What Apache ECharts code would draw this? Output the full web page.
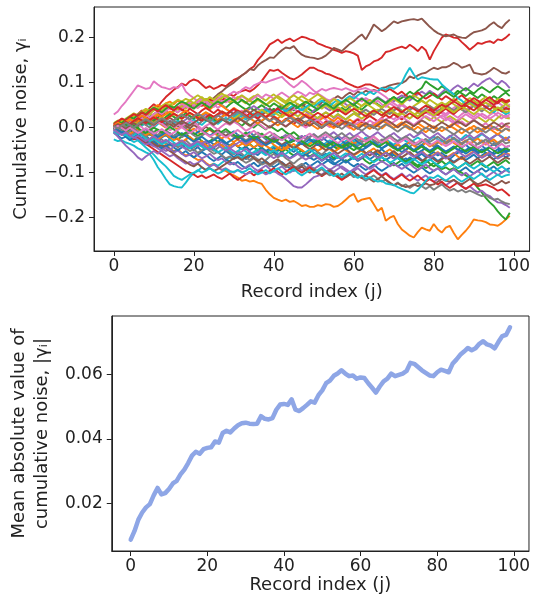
<!DOCTYPE html>
<html><head><meta charset="utf-8">
<script src="https://cdn.jsdelivr.net/npm/echarts@6/dist/echarts.min.js"></script>
<style>html,body{margin:0;padding:0;background:#fff}#c{width:533px;height:596px}</style>
</head><body><div id="c"></div>
<script>
const recordIndex = Array.from({length:100},(_,i)=>i);
const xTicks=[0,20,40,60,80,100];
const topYTicks=[-0.2,-0.1,0,0.1,0.2];
const bottomYTicks=[0.02,0.04,0.06];

const w00=[.002,-.006,-.012,-.008,-.016,-.010,-.019,-.024,-.018,-.026,-.020,-.030,-.036,-.028,-.034,-.042,-.038,-.030,-.036,-.044,-.050,-.043,-.052,-.047,-.040,-.046,-.054,-.060,-.052,-.058,-.066,-.058,-.062,-.070,-.064,-.056,-.061,-.052,-.058,-.050,-.044,-.052,-.046,-.040,-.048,-.054,-.046,-.052,-.060,-.055,-.048,-.054,-.062,-.058,-.066,-.072,-.064,-.070,-.062,-.056,-.063,-.070,-.066,-.058,-.052,-.060,-.054,-.048,-.056,-.062,-.055,-.060,-.068,-.074,-.066,-.072,-.064,-.058,-.066,-.060,-.054,-.062,-.056,-.064,-.070,-.062,-.056,-.050,-.058,-.052,-.046,-.054,-.048,-.056,-.062,-.054,-.048,-.056,-.050,-.052];
const w01=[.000,-.006,-.002,-.010,-.016,-.012,-.020,-.026,-.022,-.030,-.028,-.036,-.042,-.038,-.046,-.052,-.048,-.056,-.062,-.058,-.066,-.072,-.070,-.078,-.084,-.080,-.088,-.094,-.096,-.102,-.106,-.111,-.118,-.116,-.120,-.118,-.122,-.125,-.138,-.148,-.156,-.160,-.163,-.160,-.165,-.163,-.168,-.174,-.172,-.176,-.176,-.172,-.174,-.170,-.171,-.176,-.174,-.168,-.160,-.152,-.147,-.165,-.160,-.158,-.156,-.170,-.185,-.178,-.207,-.200,-.196,-.214,-.226,-.233,-.240,-.244,-.232,-.222,-.226,-.229,-.214,-.226,-.233,-.222,-.218,-.234,-.248,-.238,-.229,-.218,-.204,-.206,-.207,-.210,-.215,-.216,-.218,-.212,-.204,-.196];
const w02=[-.004,.004,.010,.006,.014,.020,.015,.022,.028,.024,.030,.036,.030,.038,.044,.040,.034,.042,.048,.044,.050,.046,.054,.060,.054,.048,.055,.050,.044,.052,.058,.052,.046,.040,.046,.038,.044,.050,.043,.036,.042,.036,.030,.037,.044,.038,.046,.052,.046,.040,.034,.041,.048,.054,.048,.042,.036,.044,.038,.046,.052,.045,.040,.048,.054,.060,.052,.046,.054,.062,.068,.061,.066,.072,.080,.074,.082,.088,.103,.096,.090,.084,.092,.086,.080,.074,.082,.076,.070,.078,.072,.066,.074,.068,.062,.070,.064,.072,.078,.070];
const w03=[.005,.012,.006,.016,.024,.018,.030,.038,.030,.044,.052,.046,.058,.068,.076,.084,.090,.098,.094,.103,.107,.104,.096,.088,.092,.086,.090,.095,.092,.099,.106,.110,.116,.122,.130,.136,.150,.160,.172,.185,.190,.196,.188,.194,.198,.192,.197,.202,.200,.196,.194,.187,.184,.180,.177,.173,.170,.166,.170,.168,.165,.160,.128,.136,.140,.147,.150,.156,.168,.170,.174,.177,.180,.176,.184,.178,.170,.180,.172,.151,.170,.185,.200,.207,.204,.200,.199,.190,.182,.173,.180,.188,.186,.190,.192,.188,.196,.194,.200,.208];
const w04=[.006,.012,.006,.000,.008,.014,.010,.004,.012,.018,.012,.020,.014,.008,.016,.010,.004,.012,.018,.026,.020,.028,.022,.030,.024,.018,.026,.032,.026,.034,.040,.034,.028,.036,.042,.048,.042,.036,.044,.038,.032,.040,.046,.040,.034,.028,.036,.042,.036,.030,.038,.044,.050,.044,.038,.046,.052,.058,.052,.046,.054,.060,.066,.060,.054,.062,.068,.062,.056,.064,.058,.066,.072,.066,.060,.068,.074,.080,.074,.082,.076,.070,.078,.086,.080,.088,.094,.088,.082,.090,.098,.092,.100,.106,.110,.102,.096,.104,.098,.088];
const w05=[.002,-.004,.006,.014,.010,.018,.026,.020,.012,.018,.024,.032,.028,.036,.030,.038,.046,.042,.050,.045,.052,.060,.056,.064,.058,.066,.074,.080,.088,.094,.100,.108,.116,.122,.130,.128,.138,.145,.150,.156,.155,.164,.172,.178,.176,.181,.170,.162,.158,.156,.155,.152,.155,.160,.168,.177,.174,.170,.178,.186,.192,.200,.207,.196,.212,.229,.222,.214,.220,.228,.236,.232,.236,.238,.240,.241,.239,.242,.233,.224,.216,.210,.206,.203,.205,.207,.202,.200,.199,.206,.212,.214,.216,.220,.228,.234,.226,.221,.232,.240];
const w06=[.029,.036,.048,.058,.070,.082,.094,.090,.086,.088,.103,.096,.090,.088,.085,.090,.088,.097,.080,.072,.066,.058,.062,.055,.048,.052,.044,.050,.042,.036,.040,.032,.038,.030,.024,.030,.022,.028,.034,.026,.032,.040,.034,.028,.036,.042,.036,.030,.024,.030,.022,.016,.024,.018,.012,.020,.026,.018,.012,.006,.014,.020,.014,.008,.016,.010,.004,.012,.018,.024,.018,.026,.032,.026,.020,.028,.034,.040,.034,.028,.036,.042,.036,.030,.038,.044,.050,.044,.038,.046,.052,.046,.040,.048,.054,.048,.056,.050,.044,.052];
const w07=[-.003,.005,-.002,-.010,-.004,.004,-.004,-.012,-.020,-.014,-.022,-.016,-.008,-.014,-.024,-.018,-.026,-.034,-.028,-.036,-.044,-.038,-.030,-.037,-.046,-.052,-.045,-.038,-.046,-.054,-.060,-.052,-.058,-.066,-.072,-.064,-.070,-.078,-.072,-.064,-.058,-.066,-.060,-.068,-.074,-.080,-.072,-.066,-.060,-.068,-.062,-.055,-.060,-.052,-.046,-.054,-.048,-.040,-.046,-.038,-.032,-.040,-.034,-.042,-.036,-.028,-.034,-.026,-.032,-.040,-.046,-.038,-.044,-.050,-.042,-.036,-.044,-.038,-.030,-.036,-.042,-.034,-.028,-.036,-.030,-.024,-.032,-.038,-.030,-.036,-.042,-.036,-.028,-.034,-.026,-.032,-.038,-.030,-.024,-.030];
const w08=[.004,.010,.018,.012,.020,.026,.022,.030,.036,.030,.038,.044,.038,.046,.052,.046,.040,.048,.054,.060,.054,.062,.068,.060,.066,.058,.064,.070,.062,.056,.062,.068,.060,.054,.062,.068,.074,.066,.060,.068,.074,.066,.060,.054,.062,.056,.064,.070,.064,.058,.052,.060,.066,.060,.054,.048,.056,.050,.044,.052,.046,.040,.048,.054,.048,.042,.036,.044,.050,.044,.038,.046,.052,.046,.040,.048,.054,.060,.054,.048,.042,.050,.056,.050,.058,.064,.058,.052,.060,.066,.060,.054,.062,.068,.062,.056,.064,.058,.052,.060];
const w09=[-.026,-.030,-.028,-.033,-.036,-.040,-.046,-.050,-.055,-.059,-.072,-.088,-.100,-.114,-.126,-.130,-.132,-.133,-.122,-.110,-.101,-.096,-.088,-.094,-.086,-.080,-.085,-.078,-.072,-.066,-.070,-.062,-.068,-.060,-.054,-.060,-.052,-.046,-.054,-.048,-.040,-.046,-.052,-.044,-.038,-.044,-.036,-.030,-.038,-.032,-.026,-.034,-.040,-.034,-.028,-.036,-.042,-.036,-.030,-.024,-.030,-.036,-.030,-.022,-.028,-.034,-.040,-.034,-.026,-.032,-.038,-.030,-.024,-.030,-.036,-.028,-.022,-.028,-.034,-.026,-.020,-.026,-.032,-.026,-.018,-.024,-.030,-.024,-.016,-.022,-.028,-.022,-.014,-.020,-.026,-.020,-.014,-.020,-.026,-.020];
const w10=[-.008,-.014,-.010,-.018,-.024,-.020,-.028,-.022,-.030,-.036,-.030,-.038,-.044,-.040,-.048,-.054,-.050,-.058,-.052,-.060,-.066,-.060,-.054,-.060,-.068,-.074,-.068,-.062,-.070,-.076,-.082,-.076,-.084,-.090,-.084,-.078,-.086,-.080,-.074,-.082,-.088,-.082,-.076,-.084,-.090,-.096,-.090,-.084,-.078,-.086,-.080,-.074,-.082,-.076,-.070,-.078,-.084,-.078,-.072,-.080,-.086,-.080,-.088,-.094,-.088,-.082,-.090,-.096,-.090,-.084,-.078,-.086,-.080,-.088,-.094,-.100,-.094,-.088,-.096,-.102,-.096,-.090,-.098,-.104,-.098,-.092,-.100,-.094,-.088,-.096,-.102,-.096,-.090,-.098,-.092,-.086,-.094,-.100,-.094,-.090];
const w11=[.004,.012,.020,.014,.024,.030,.026,.034,.040,.036,.044,.050,.046,.054,.058,.052,.060,.054,.048,.056,.050,.044,.052,.046,.040,.048,.054,.048,.042,.036,.044,.038,.032,.040,.034,.028,.036,.030,.024,.032,.026,.020,.028,.034,.028,.022,.016,.024,.030,.024,.018,.012,.020,.026,.020,.014,.022,.016,.010,.018,.012,.006,.014,.008,.002,.010,.004,-.002,.006,.012,.006,.000,.008,.002,-.004,.004,.010,.004,-.002,.006,.000,-.006,.002,-.004,.004,.010,.004,-.002,-.008,-.002,.004,-.002,-.008,-.002,.006,.000,-.006,.000,.006,.000];
const w12=[-.002,-.008,-.004,-.012,-.006,-.014,-.020,-.014,-.008,-.016,-.010,-.004,-.012,-.018,-.012,-.020,-.026,-.020,-.014,-.022,-.028,-.022,-.030,-.036,-.030,-.024,-.032,-.026,-.034,-.040,-.034,-.042,-.048,-.042,-.036,-.044,-.050,-.044,-.052,-.058,-.052,-.046,-.054,-.048,-.056,-.062,-.056,-.050,-.058,-.064,-.058,-.066,-.072,-.066,-.060,-.068,-.062,-.070,-.076,-.070,-.064,-.072,-.066,-.074,-.080,-.074,-.068,-.076,-.070,-.078,-.084,-.078,-.072,-.080,-.074,-.082,-.088,-.082,-.090,-.084,-.078,-.086,-.092,-.088,-.094,-.090,-.096,-.100,-.106,-.111,-.122,-.134,-.144,-.156,-.166,-.174,-.186,-.196,-.204,-.189];
const w13=[.004,-.002,.006,.012,.008,.016,.010,.018,.024,.020,.028,.022,.030,.036,.030,.038,.044,.038,.046,.052,.046,.054,.048,.056,.062,.058,.066,.060,.068,.074,.070,.078,.081,.084,.080,.086,.094,.104,.116,.128,.126,.129,.122,.116,.110,.107,.112,.118,.126,.133,.133,.128,.125,.120,.118,.114,.110,.107,.100,.096,.092,.089,.092,.096,.096,.092,.088,.084,.080,.086,.080,.074,.080,.072,.066,.072,.078,.070,.064,.070,.076,.068,.062,.070,.064,.058,.066,.072,.064,.058,.066,.060,.054,.062,.068,.060,.054,.062,.056,.060];
const w14=[-.006,-.012,-.008,-.016,-.022,-.018,-.026,-.032,-.028,-.036,-.042,-.038,-.046,-.052,-.048,-.056,-.050,-.058,-.064,-.060,-.054,-.062,-.068,-.064,-.058,-.066,-.072,-.068,-.076,-.082,-.078,-.086,-.092,-.088,-.082,-.090,-.096,-.090,-.084,-.092,-.098,-.092,-.086,-.094,-.100,-.094,-.088,-.096,-.090,-.084,-.092,-.086,-.080,-.088,-.094,-.088,-.082,-.090,-.096,-.102,-.096,-.090,-.098,-.104,-.098,-.092,-.100,-.106,-.100,-.108,-.114,-.108,-.102,-.110,-.104,-.112,-.118,-.112,-.106,-.114,-.120,-.114,-.122,-.128,-.122,-.116,-.124,-.130,-.136,-.130,-.138,-.144,-.140,-.148,-.152,-.160,-.166,-.167,-.172,-.178];
const w15=[-.002,.006,.002,.010,.016,.010,.018,.012,.006,.014,.020,.014,.008,.016,.022,.016,.024,.030,.024,.018,.026,.020,.014,.022,.028,.022,.016,.024,.030,.036,.030,.024,.032,.038,.032,.040,.034,.028,.036,.042,.036,.044,.050,.044,.038,.046,.052,.046,.054,.060,.054,.048,.056,.062,.056,.064,.070,.064,.072,.078,.072,.080,.076,.082,.078,.084,.081,.088,.090,.094,.096,.098,.099,.104,.114,.110,.116,.120,.122,.128,.133,.130,.134,.134,.138,.144,.140,.133,.136,.140,.122,.120,.118,.120,.126,.133,.128,.122,.120,.125];
const w16=[.002,.008,.004,.012,.018,.014,.022,.028,.024,.032,.026,.034,.040,.036,.044,.038,.046,.052,.048,.056,.050,.058,.064,.060,.052,.058,.064,.070,.066,.074,.080,.076,.084,.090,.086,.094,.098,.102,.100,.104,.107,.110,.113,.104,.096,.089,.096,.104,.098,.090,.082,.076,.070,.064,.060,.066,.058,.052,.058,.064,.070,.064,.058,.066,.060,.054,.060,.052,.046,.054,.048,.042,.050,.044,.038,.046,.040,.034,.042,.036,.030,.038,.032,.026,.034,.028,.022,.030,.036,.030,.024,.032,.026,.020,.028,.034,.026,.020,.028,.022];
const w17=[.000,-.006,-.002,-.010,-.016,-.012,-.020,-.014,-.022,-.028,-.024,-.030,-.026,-.034,-.040,-.036,-.044,-.038,-.046,-.052,-.048,-.056,-.050,-.044,-.052,-.058,-.054,-.062,-.068,-.064,-.070,-.064,-.072,-.078,-.074,-.068,-.076,-.082,-.078,-.086,-.080,-.074,-.082,-.088,-.084,-.092,-.086,-.080,-.088,-.094,-.090,-.098,-.092,-.100,-.106,-.100,-.108,-.114,-.108,-.102,-.110,-.104,-.112,-.118,-.112,-.106,-.114,-.120,-.116,-.124,-.128,-.122,-.130,-.126,-.134,-.128,-.122,-.130,-.136,-.130,-.138,-.132,-.126,-.134,-.140,-.136,-.142,-.138,-.144,-.140,-.144,-.148,-.152,-.150,-.156,-.160,-.158,-.164,-.168,-.170];
const w18=[.006,.000,.008,.014,.010,.018,.024,.018,.026,.032,.026,.034,.040,.034,.028,.036,.042,.048,.042,.050,.056,.050,.058,.064,.058,.052,.060,.066,.072,.066,.060,.068,.062,.056,.064,.070,.064,.058,.050,.056,.062,.056,.050,.044,.052,.058,.052,.046,.040,.048,.054,.048,.042,.050,.044,.038,.046,.040,.034,.042,.036,.030,.038,.032,.026,.034,.040,.034,.028,.036,.030,.024,.032,.026,.020,.028,.034,.028,.022,.016,.024,.018,.012,.020,.026,.020,.014,.022,.016,.010,.018,.024,.018,.012,.020,.014,.022,.028,.022,.020];
const w19=[-.004,.002,-.006,.000,.006,.002,.010,.004,.012,.006,.000,.008,.014,.008,.002,.010,.016,.010,.004,.012,.018,.012,.006,.014,.020,.014,.008,.016,.022,.016,.024,.030,.024,.018,.026,.032,.026,.034,.040,.034,.028,.036,.042,.036,.044,.050,.044,.038,.046,.052,.046,.054,.060,.054,.048,.056,.062,.056,.064,.070,.064,.072,.078,.072,.080,.074,.082,.088,.084,.090,.086,.092,.100,.118,.133,.118,.107,.112,.110,.108,.107,.107,.096,.088,.081,.074,.066,.060,.052,.058,.050,.044,.052,.046,.040,.034,.042,.036,.030,.034];
const w20=[-.010,-.016,-.012,-.020,-.014,-.022,-.028,-.034,-.030,-.038,-.032,-.040,-.046,-.042,-.036,-.044,-.050,-.044,-.038,-.046,-.040,-.034,-.042,-.036,-.030,-.038,-.032,-.026,-.034,-.040,-.034,-.042,-.048,-.042,-.050,-.044,-.038,-.046,-.052,-.046,-.054,-.060,-.054,-.062,-.068,-.062,-.056,-.064,-.058,-.066,-.072,-.066,-.074,-.068,-.076,-.082,-.076,-.070,-.078,-.072,-.066,-.074,-.068,-.062,-.070,-.064,-.058,-.066,-.072,-.066,-.060,-.068,-.074,-.068,-.076,-.070,-.064,-.072,-.078,-.072,-.066,-.074,-.068,-.062,-.070,-.076,-.070,-.064,-.072,-.066,-.060,-.068,-.062,-.056,-.064,-.070,-.064,-.058,-.066,-.060];
const w21=[.008,.002,.010,.016,.012,.006,.014,.020,.016,.010,.004,.012,.006,.000,.008,.002,-.004,.004,-.002,-.008,-.002,-.010,-.016,-.010,-.004,-.012,-.018,-.024,-.018,-.026,-.032,-.026,-.034,-.040,-.034,-.028,-.036,-.042,-.036,-.030,-.038,-.044,-.050,-.044,-.038,-.046,-.040,-.034,-.042,-.036,-.030,-.038,-.044,-.038,-.032,-.040,-.046,-.040,-.034,-.028,-.036,-.030,-.024,-.032,-.026,-.020,-.028,-.034,-.028,-.036,-.042,-.036,-.044,-.038,-.032,-.040,-.046,-.040,-.034,-.042,-.036,-.030,-.038,-.032,-.026,-.034,-.040,-.034,-.028,-.036,-.030,-.024,-.032,-.038,-.032,-.026,-.034,-.028,-.022,-.030];
const w22=[-.002,.004,.010,.004,.012,.006,.000,.008,.014,.008,.016,.022,.016,.024,.030,.024,.018,.026,.032,.026,.020,.028,.022,.016,.024,.018,.012,.020,.014,.008,.016,.010,.004,.012,.006,.000,.008,.002,-.004,.004,-.002,-.008,-.002,-.010,-.016,-.010,-.018,-.024,-.018,-.026,-.032,-.026,-.034,-.040,-.034,-.042,-.048,-.042,-.036,-.044,-.050,-.044,-.052,-.058,-.052,-.060,-.066,-.060,-.054,-.062,-.068,-.062,-.070,-.076,-.070,-.078,-.084,-.078,-.072,-.080,-.086,-.080,-.074,-.082,-.076,-.084,-.090,-.084,-.078,-.086,-.080,-.074,-.082,-.088,-.082,-.076,-.084,-.078,-.072,-.080];
const w23=[-.004,-.010,-.016,-.012,-.020,-.026,-.022,-.030,-.036,-.042,-.048,-.054,-.060,-.066,-.072,-.078,-.084,-.090,-.096,-.100,-.104,-.110,-.106,-.112,-.108,-.104,-.110,-.114,-.108,-.102,-.110,-.116,-.110,-.104,-.098,-.106,-.100,-.094,-.102,-.096,-.090,-.098,-.104,-.098,-.092,-.086,-.094,-.100,-.094,-.088,-.096,-.102,-.108,-.102,-.096,-.104,-.110,-.116,-.110,-.104,-.098,-.106,-.112,-.106,-.100,-.094,-.102,-.108,-.102,-.110,-.116,-.110,-.104,-.112,-.118,-.112,-.106,-.114,-.120,-.114,-.120,-.126,-.120,-.128,-.134,-.128,-.122,-.130,-.136,-.130,-.124,-.130,-.128,-.126,-.130,-.134,-.140,-.137,-.144,-.152];
const w24=[-.006,-.002,-.010,-.016,-.012,-.020,-.026,-.032,-.038,-.034,-.040,-.046,-.052,-.058,-.064,-.060,-.068,-.074,-.080,-.076,-.082,-.078,-.072,-.080,-.086,-.082,-.088,-.094,-.090,-.096,-.100,-.094,-.098,-.104,-.100,-.096,-.102,-.098,-.104,-.100,-.096,-.102,-.107,-.114,-.122,-.130,-.133,-.133,-.126,-.118,-.110,-.107,-.104,-.098,-.092,-.098,-.092,-.086,-.092,-.098,-.092,-.086,-.080,-.086,-.092,-.086,-.080,-.074,-.080,-.086,-.080,-.086,-.092,-.086,-.080,-.088,-.094,-.088,-.082,-.090,-.096,-.090,-.098,-.104,-.098,-.092,-.100,-.106,-.100,-.108,-.102,-.096,-.104,-.110,-.104,-.098,-.106,-.100,-.094,-.100];
const w25=[.000,-.006,-.012,-.008,-.016,-.022,-.018,-.026,-.032,-.028,-.036,-.042,-.038,-.046,-.052,-.058,-.064,-.070,-.076,-.082,-.086,-.080,-.088,-.094,-.090,-.096,-.092,-.086,-.080,-.074,-.068,-.066,-.072,-.066,-.060,-.068,-.074,-.068,-.076,-.082,-.076,-.070,-.078,-.084,-.078,-.086,-.092,-.086,-.094,-.100,-.094,-.100,-.106,-.100,-.094,-.102,-.108,-.102,-.110,-.104,-.098,-.106,-.112,-.106,-.114,-.120,-.114,-.108,-.116,-.122,-.128,-.124,-.128,-.132,-.130,-.126,-.130,-.128,-.124,-.128,-.126,-.120,-.114,-.118,-.120,-.116,-.122,-.126,-.120,-.114,-.120,-.126,-.122,-.116,-.122,-.128,-.124,-.118,-.124,-.120];
const w26=[.006,.012,.008,.016,.010,.018,.024,.020,.028,.022,.030,.036,.030,.038,.044,.040,.034,.042,.048,.042,.050,.044,.052,.058,.052,.046,.054,.060,.056,.062,.068,.062,.070,.064,.058,.066,.072,.066,.074,.070,.064,.072,.078,.072,.066,.074,.080,.076,.070,.078,.074,.080,.086,.082,.086,.088,.086,.084,.088,.084,.080,.084,.086,.088,.084,.082,.080,.074,.068,.060,.054,.048,.054,.046,.040,.046,.038,.032,.038,.030,.024,.030,.022,.016,.022,.014,.008,.014,.006,.012,.018,.010,.004,.010,.002,-.004,.004,.010,.004,.000];
const w27=[-.004,.002,.008,.002,-.006,.000,.006,.012,.006,.000,.008,.014,.008,.002,.010,.016,.010,.004,-.002,.006,.012,.006,.014,.020,.014,.008,.016,.022,.016,.010,.018,.024,.018,.012,.020,.026,.020,.014,.022,.028,.022,.016,.010,.018,.024,.018,.012,.020,.026,.020,.014,.022,.028,.034,.028,.022,.030,.024,.018,.026,.032,.026,.034,.040,.034,.028,.036,.042,.036,.030,.038,.044,.038,.032,.040,.046,.040,.034,.042,.048,.042,.036,.044,.050,.044,.038,.046,.040,.034,.042,.048,.042,.036,.044,.050,.044,.038,.046,.040,.044];
const w28=[.010,.016,.012,.020,.026,.032,.028,.036,.042,.038,.046,.040,.048,.054,.050,.056,.062,.058,.064,.060,.066,.072,.066,.060,.068,.062,.070,.076,.070,.064,.058,.066,.072,.066,.060,.054,.062,.056,.050,.058,.064,.070,.064,.058,.066,.072,.066,.060,.054,.062,.068,.074,.068,.062,.056,.064,.058,.052,.060,.066,.060,.054,.048,.056,.062,.056,.050,.044,.052,.058,.064,.058,.052,.060,.066,.072,.066,.060,.054,.062,.056,.050,.044,.052,.058,.052,.046,.040,.048,.054,.048,.042,.050,.056,.050,.044,.038,.046,.052,.046];
const w29=[-.010,-.016,-.012,-.020,-.026,-.032,-.028,-.036,-.044,-.052,-.060,-.070,-.078,-.086,-.096,-.107,-.112,-.116,-.110,-.104,-.100,-.094,-.100,-.096,-.090,-.096,-.102,-.098,-.092,-.098,-.098,-.094,-.100,-.096,-.090,-.098,-.104,-.100,-.094,-.102,-.096,-.090,-.098,-.104,-.098,-.092,-.100,-.106,-.100,-.094,-.100,-.094,-.088,-.096,-.102,-.108,-.102,-.110,-.104,-.098,-.106,-.112,-.106,-.114,-.110,-.116,-.120,-.118,-.124,-.126,-.127,-.132,-.136,-.140,-.144,-.146,-.138,-.128,-.118,-.110,-.112,-.106,-.112,-.118,-.112,-.106,-.114,-.120,-.114,-.108,-.114,-.108,-.102,-.110,-.116,-.110,-.104,-.110,-.106,-.104];
const w30=[-.012,-.018,-.024,-.020,-.028,-.022,-.016,-.024,-.030,-.026,-.020,-.028,-.022,-.016,-.024,-.018,-.012,-.020,-.014,-.008,-.016,-.010,-.004,-.012,-.018,-.012,-.006,-.014,-.020,-.014,-.008,-.016,-.022,-.016,-.010,-.018,-.024,-.018,-.026,-.032,-.026,-.020,-.028,-.022,-.016,-.024,-.030,-.024,-.018,-.026,-.032,-.026,-.020,-.028,-.034,-.028,-.022,-.030,-.036,-.030,-.024,-.032,-.038,-.044,-.038,-.032,-.040,-.046,-.040,-.034,-.042,-.048,-.042,-.036,-.044,-.050,-.044,-.038,-.046,-.052,-.046,-.040,-.048,-.054,-.048,-.042,-.050,-.044,-.038,-.046,-.052,-.046,-.040,-.048,-.042,-.036,-.044,-.050,-.044,-.040];
const w31=[.002,-.004,-.010,-.006,-.014,-.008,-.002,-.010,-.016,-.012,-.020,-.026,-.020,-.014,-.022,-.028,-.024,-.032,-.026,-.020,-.028,-.034,-.030,-.038,-.044,-.038,-.032,-.040,-.046,-.040,-.034,-.042,-.036,-.030,-.038,-.044,-.038,-.032,-.040,-.046,-.052,-.046,-.040,-.048,-.042,-.036,-.044,-.050,-.056,-.050,-.044,-.052,-.046,-.040,-.048,-.054,-.048,-.042,-.050,-.056,-.062,-.056,-.050,-.058,-.052,-.046,-.054,-.060,-.054,-.048,-.056,-.062,-.056,-.050,-.058,-.064,-.058,-.052,-.060,-.066,-.060,-.054,-.062,-.068,-.062,-.056,-.064,-.070,-.064,-.058,-.052,-.060,-.066,-.060,-.054,-.062,-.068,-.062,-.056,-.060];
const w32=[.008,.014,.010,.018,.024,.020,.028,.034,.030,.038,.044,.040,.034,.042,.048,.044,.052,.058,.054,.048,.042,.050,.056,.050,.044,.052,.058,.054,.060,.066,.060,.054,.062,.056,.050,.058,.064,.058,.052,.046,.054,.048,.042,.050,.056,.050,.044,.052,.058,.052,.046,.040,.048,.054,.048,.042,.050,.056,.062,.056,.050,.058,.064,.058,.052,.060,.066,.060,.054,.062,.068,.062,.056,.064,.070,.064,.058,.066,.072,.078,.072,.066,.074,.080,.074,.068,.076,.082,.088,.082,.076,.084,.090,.084,.078,.086,.092,.086,.080,.084];
const w33=[.008,.014,.020,.016,.024,.030,.026,.034,.028,.036,.042,.036,.044,.050,.044,.038,.046,.040,.034,.042,.036,.030,.038,.044,.038,.032,.040,.034,.028,.036,.042,.036,.030,.024,.032,.026,.020,.028,.022,.016,.024,.018,.012,.020,.014,.008,.016,.010,.004,.012,.018,.012,.006,.014,.008,.002,.010,.016,.010,.004,.012,.018,.012,.020,.026,.020,.014,.022,.028,.022,.030,.024,.018,.026,.032,.026,.020,.028,.034,.040,.034,.028,.036,.042,.036,.030,.038,.044,.050,.044,.038,.046,.052,.046,.040,.048,.042,.036,.044,.040];
const w34=[-.010,-.020,-.030,-.040,-.048,-.056,-.066,-.072,-.064,-.058,-.052,-.058,-.050,-.044,-.050,-.042,-.036,-.042,-.048,-.040,-.034,-.042,-.036,-.030,-.038,-.044,-.038,-.032,-.040,-.046,-.040,-.034,-.028,-.036,-.030,-.024,-.032,-.038,-.032,-.026,-.020,-.028,-.022,-.016,-.024,-.030,-.024,-.018,-.026,-.020,-.014,-.022,-.028,-.022,-.016,-.010,-.018,-.024,-.018,-.012,-.020,-.014,-.008,-.016,-.022,-.016,-.010,-.018,-.024,-.018,-.012,-.020,-.026,-.020,-.014,-.022,-.016,-.010,-.018,-.024,-.018,-.012,-.020,-.026,-.020,-.014,-.022,-.028,-.022,-.016,-.024,-.018,-.012,-.020,-.026,-.020,-.014,-.022,-.028,-.020];
const w35=[.004,-.002,.006,.012,.018,.012,.020,.026,.022,.016,.010,.018,.012,.006,.014,.008,.002,.010,.004,-.002,.006,.000,-.006,.002,-.004,-.010,-.004,-.012,-.018,-.012,-.020,-.026,-.020,-.014,-.022,-.028,-.022,-.030,-.036,-.030,-.024,-.032,-.038,-.032,-.040,-.046,-.040,-.034,-.042,-.048,-.042,-.036,-.044,-.050,-.044,-.052,-.058,-.052,-.046,-.054,-.060,-.054,-.048,-.056,-.062,-.056,-.050,-.058,-.064,-.058,-.052,-.060,-.066,-.060,-.054,-.062,-.068,-.074,-.068,-.062,-.070,-.076,-.070,-.064,-.072,-.078,-.072,-.066,-.074,-.080,-.074,-.068,-.076,-.070,-.064,-.072,-.078,-.072,-.066,-.070];
const w36=[.000,.007,.003,-.005,.002,.011,.006,.001,-.008,-.003,.004,.012,.009,.002,-.006,-.001,.007,.003,.010,.016,.011,.005,-.003,.004,.009,.002,-.004,.003,.010,.006,.013,.008,.001,-.007,-.002,.005,.011,.004,-.003,.002,.008,.014,.009,.003,.010,.017,.012,.006,.000,.007,.013,.018,.012,.007,.001,.008,.015,.010,.004,-.002,.005,.011,.016,.010,.004,.009,.015,.021,.014,.008,.013,.019,.025,.018,.012,.006,.013,.020,.026,.020,.014,.021,.027,.022,.016,.010,.017,.023,.030,.024,.019,.025,.031,.026,.020,.026,.033,.028,.022,.030];
const w37=[-.004,-.010,-.006,-.013,-.008,-.002,-.009,-.015,-.011,-.004,-.010,-.017,-.012,-.006,-.013,-.019,-.014,-.021,-.016,-.010,-.017,-.023,-.018,-.012,-.019,-.025,-.020,-.014,-.008,-.015,-.021,-.016,-.022,-.028,-.023,-.017,-.011,-.018,-.024,-.019,-.013,-.020,-.026,-.021,-.015,-.022,-.028,-.034,-.027,-.021,-.015,-.022,-.016,-.010,-.017,-.023,-.018,-.012,-.019,-.025,-.020,-.026,-.032,-.027,-.021,-.028,-.034,-.029,-.023,-.017,-.024,-.030,-.025,-.019,-.026,-.032,-.038,-.031,-.025,-.032,-.026,-.020,-.027,-.033,-.028,-.022,-.029,-.035,-.030,-.024,-.031,-.037,-.032,-.026,-.033,-.039,-.034,-.028,-.035,-.032];
const w38=[.003,.009,.005,.012,.018,.013,.007,.014,.020,.016,.010,.017,.023,.018,.024,.030,.025,.019,.026,.032,.027,.021,.028,.034,.029,.023,.030,.036,.031,.025,.019,.026,.032,.027,.021,.028,.034,.040,.034,.028,.035,.029,.023,.030,.036,.031,.025,.032,.038,.033,.027,.021,.028,.034,.029,.023,.030,.024,.018,.025,.031,.026,.020,.027,.033,.039,.033,.027,.034,.040,.035,.029,.036,.042,.037,.031,.025,.032,.038,.033,.027,.034,.040,.046,.040,.034,.041,.047,.042,.036,.030,.037,.043,.038,.032,.039,.045,.040,.034,.038];
const w39=[-.008,-.014,-.009,-.016,-.022,-.017,-.011,-.018,-.024,-.030,-.025,-.031,-.037,-.032,-.026,-.033,-.039,-.034,-.040,-.046,-.041,-.035,-.042,-.048,-.043,-.049,-.055,-.050,-.044,-.051,-.057,-.052,-.046,-.053,-.059,-.054,-.048,-.055,-.061,-.056,-.050,-.057,-.063,-.058,-.052,-.046,-.053,-.059,-.054,-.048,-.055,-.061,-.067,-.061,-.055,-.062,-.068,-.063,-.057,-.064,-.070,-.064,-.058,-.065,-.071,-.077,-.071,-.065,-.072,-.078,-.073,-.067,-.074,-.080,-.075,-.069,-.076,-.082,-.076,-.070,-.077,-.083,-.089,-.083,-.077,-.084,-.090,-.084,-.078,-.085,-.091,-.085,-.079,-.086,-.092,-.098,-.092,-.086,-.093,-.098];
const w40=[.001,-.005,-.011,-.006,.000,-.007,-.013,-.008,-.002,-.009,-.015,-.021,-.016,-.010,-.017,-.023,-.018,-.012,-.019,-.025,-.031,-.026,-.020,-.027,-.033,-.028,-.022,-.029,-.035,-.030,-.024,-.018,-.025,-.031,-.026,-.020,-.027,-.033,-.039,-.034,-.028,-.035,-.041,-.036,-.030,-.024,-.031,-.037,-.032,-.026,-.033,-.039,-.034,-.040,-.046,-.041,-.035,-.042,-.048,-.043,-.037,-.044,-.050,-.045,-.039,-.033,-.040,-.046,-.041,-.035,-.042,-.048,-.054,-.049,-.043,-.050,-.056,-.051,-.045,-.052,-.046,-.040,-.047,-.053,-.048,-.042,-.049,-.055,-.050,-.044,-.051,-.057,-.052,-.046,-.053,-.059,-.054,-.048,-.055,-.050];
const w41=[.005,.011,.006,.013,.019,.014,.021,.027,.022,.016,.023,.029,.024,.030,.036,.031,.025,.032,.038,.033,.027,.021,.028,.034,.029,.023,.017,.024,.030,.025,.019,.013,.020,.026,.021,.015,.009,.016,.022,.017,.011,.005,.012,.018,.013,.007,.001,.008,.014,.009,.003,-.003,.004,.010,.005,-.001,.006,.012,.007,.001,-.005,.002,.008,.003,-.003,.004,.010,.016,.011,.005,-.001,.006,.012,.007,.001,-.005,.002,-.004,-.010,-.003,.003,-.002,-.008,-.002,.004,-.001,-.007,-.013,-.006,.000,-.005,-.011,-.004,.002,-.003,-.009,-.015,-.008,-.002,-.008];
const w42=[-.003,.003,-.002,-.008,-.003,.004,-.001,-.007,-.012,-.006,.000,-.005,-.011,-.006,.001,-.004,-.010,-.016,-.011,-.005,-.012,-.018,-.013,-.007,-.001,-.008,-.014,-.009,-.003,-.010,-.016,-.022,-.017,-.011,-.018,-.024,-.019,-.013,-.020,-.026,-.032,-.027,-.021,-.028,-.034,-.029,-.023,-.030,-.036,-.042,-.036,-.030,-.037,-.043,-.038,-.032,-.039,-.045,-.040,-.034,-.041,-.047,-.042,-.036,-.030,-.037,-.043,-.038,-.032,-.039,-.045,-.051,-.046,-.040,-.047,-.053,-.048,-.042,-.049,-.055,-.050,-.044,-.051,-.057,-.052,-.046,-.040,-.047,-.053,-.048,-.042,-.049,-.055,-.050,-.044,-.051,-.057,-.052,-.046,-.050];
const w43=[.006,.000,.007,.013,.008,.015,.021,.016,.010,.017,.023,.018,.012,.019,.025,.031,.026,.020,.027,.033,.028,.022,.016,.023,.029,.024,.030,.036,.031,.025,.032,.038,.033,.027,.021,.028,.034,.029,.023,.030,.036,.042,.036,.030,.024,.031,.037,.032,.026,.020,.027,.033,.028,.022,.029,.035,.041,.035,.029,.036,.042,.037,.031,.025,.032,.038,.033,.027,.034,.040,.046,.040,.034,.041,.047,.042,.036,.043,.049,.044,.038,.045,.051,.046,.052,.058,.053,.047,.054,.060,.055,.049,.056,.062,.057,.051,.058,.064,.059,.062];
const w44=[-.005,-.011,-.016,-.010,-.017,-.023,-.018,-.024,-.030,-.025,-.019,-.026,-.032,-.027,-.033,-.039,-.034,-.028,-.035,-.041,-.036,-.030,-.037,-.043,-.049,-.044,-.038,-.045,-.051,-.046,-.052,-.058,-.053,-.047,-.054,-.060,-.055,-.049,-.056,-.062,-.068,-.062,-.056,-.063,-.069,-.064,-.058,-.065,-.071,-.066,-.060,-.067,-.073,-.068,-.062,-.056,-.063,-.069,-.064,-.058,-.065,-.071,-.066,-.060,-.054,-.061,-.067,-.062,-.056,-.063,-.069,-.064,-.058,-.052,-.059,-.065,-.060,-.054,-.061,-.067,-.062,-.056,-.063,-.069,-.064,-.058,-.052,-.059,-.065,-.060,-.054,-.061,-.067,-.062,-.056,-.063,-.069,-.064,-.058,-.062];
const w45=[.002,.008,.003,-.003,.004,.010,.005,.011,.017,.012,.006,.013,.019,.014,.008,.002,.009,.015,.010,.004,.011,.017,.023,.018,.012,.006,.013,.019,.014,.008,.015,.021,.016,.010,.004,.011,.017,.012,.006,.000,.007,.013,.008,.002,.009,.015,.021,.016,.010,.004,.011,.005,-.001,.006,.012,.007,.001,.008,.014,.009,.003,-.003,.004,.010,.005,-.001,.006,.012,.018,.013,.007,.001,.008,.014,.009,.003,.010,.016,.011,.005,-.001,.006,.012,.007,.001,.008,.014,.009,.003,.010,.016,.011,.005,-.001,.006,.012,.007,.001,.008,.010];
const w46=[-.002,.004,-.001,-.007,.000,-.006,-.012,-.007,-.001,-.008,-.014,-.009,-.003,-.010,-.016,-.011,-.005,.001,-.006,-.012,-.007,-.001,-.008,-.014,-.020,-.015,-.009,-.016,-.022,-.017,-.011,-.005,-.012,-.018,-.013,-.007,-.014,-.020,-.015,-.009,-.016,-.022,-.028,-.023,-.017,-.024,-.030,-.025,-.019,-.013,-.020,-.026,-.021,-.015,-.022,-.028,-.034,-.029,-.023,-.030,-.024,-.018,-.025,-.031,-.026,-.020,-.027,-.033,-.028,-.022,-.029,-.035,-.030,-.024,-.031,-.037,-.032,-.026,-.033,-.039,-.034,-.028,-.035,-.041,-.036,-.030,-.037,-.043,-.038,-.032,-.039,-.045,-.040,-.034,-.041,-.047,-.042,-.036,-.043,-.040];
const w47=[.004,-.002,.005,.011,.006,.000,.007,.013,.019,.014,.008,.015,.021,.016,.010,.017,.023,.029,.024,.018,.025,.031,.026,.020,.014,.021,.027,.022,.016,.023,.029,.035,.030,.024,.018,.025,.031,.026,.020,.014,.021,.015,.009,.016,.022,.017,.011,.005,.012,.018,.013,.007,.001,.008,.014,.009,.003,-.003,.004,.010,.005,-.001,-.007,.000,.006,.001,-.005,.002,.008,.003,-.003,-.009,-.002,.004,-.001,-.007,-.013,-.006,.000,-.005,-.011,-.004,.002,-.003,-.009,-.015,-.008,-.002,-.007,-.013,-.006,.000,-.005,-.011,-.004,.002,-.003,-.009,-.002,-.005];

const meanAbs=[.0088,.0115,.0150,.0172,.0188,.0198,.0225,.0248,.0228,.0232,.0245,.0262,.0270,.0290,.0305,.0325,.0348,.0360,.0354,.0368,.0372,.0374,.0392,.0388,.0418,.0425,.0420,.0432,.0442,.0448,.0450,.0447,.0446,.0447,.0470,.0462,.0460,.0464,.0490,.0506,.0508,.0505,.0522,.0490,.0486,.0495,.0505,.0516,.0512,.0535,.0550,.0572,.0580,.0595,.0602,.0612,.0602,.0594,.0596,.0586,.0590,.0588,.0572,.0558,.0543,.0562,.0578,.0586,.0602,.0594,.0598,.0602,.0610,.0635,.0632,.0622,.0612,.0604,.0596,.0594,.0606,.0614,.0610,.0606,.0632,.0645,.0660,.0670,.0681,.0674,.0680,.0694,.0702,.0692,.0688,.0680,.0700,.0718,.0722,.0745];

const walks=[w00,w01,w02,w03,w04,w05,w06,w07,w08,w09,w10,w11,w12,w13,w14,w15,w16,w17,w18,w19,w20,w21,w22,w23,w24,w25,w26,w27,w28,w29,w30,w31,w32,w33,w34,w35,w36,w37,w38,w39,w40,w41,w42,w43,w44,w45,w46,w47];
const palette=['#1f77b4','#ff7f0e','#2ca02c','#d62728','#9467bd','#8c564b','#e377c2','#7f7f7f','#bcbd22','#17becf'];

const FONT='DejaVu Sans';
const tickFont={fontFamily:FONT,fontSize:17,color:'#222'};
const nameFont={fontFamily:FONT,fontSize:18,color:'#222'};
const minusFmt=(d)=>(v)=>(v<0?'\u2212':'')+Math.abs(v).toFixed(d);
const axisLineStyle={show:true,onZero:false,lineStyle:{color:'#222',width:1}};

function xAxisFor(gi,gap){
  return {type:'value',gridIndex:gi,min:-4.95,max:103.95,
    axisLine:axisLineStyle,
    axisTick:{show:true,customValues:xTicks,length:5,lineStyle:{color:'#222',width:1}},
    axisLabel:{customValues:xTicks,margin:7,formatter:(v)=>String(v),...tickFont},
    splitLine:{show:false},
    name:'Record index (j)',nameLocation:'middle',nameGap:gap,nameTextStyle:nameFont};
}

const series=walks.map((w,k)=>({
  type:'line',xAxisIndex:0,yAxisIndex:0,
  data:w.map((v,i)=>[recordIndex[i],v]),
  showSymbol:false,symbol:'none',silent:true,
  lineStyle:{width:1.9,color:palette[k%10]},
  itemStyle:{color:palette[k%10]}
}));
series.push({
  type:'line',xAxisIndex:1,yAxisIndex:1,
  data:meanAbs.map((v,i)=>[recordIndex[i],v]),
  showSymbol:false,symbol:'none',
  lineStyle:{width:4.5,color:'#8ea6e6',join:'round',cap:'round'}
});

const chart=echarts.init(document.getElementById('c'),null,{renderer:'canvas'});
chart.setOption({
  animation:false,
  backgroundColor:'#fff',
  grid:[
    {left:94,top:7,width:436,height:244,show:true,borderColor:'#222',borderWidth:1,backgroundColor:'transparent'},
    {left:110,top:316,width:420,height:235,show:true,borderColor:'#222',borderWidth:1,backgroundColor:'transparent'}
  ],
  xAxis:[xAxisFor(0,32),xAxisFor(1,22)],
  yAxis:[
    {type:'value',gridIndex:0,min:-0.274,max:0.268,
     axisLine:axisLineStyle,
     axisTick:{show:true,customValues:topYTicks,length:5,lineStyle:{color:'#222',width:1}},
     axisLabel:{customValues:topYTicks,margin:9,formatter:minusFmt(1),...tickFont},
     splitLine:{show:false},
     name:'Cumulative noise, γᵢ',nameLocation:'middle',nameRotate:90,nameGap:64,nameTextStyle:nameFont},
    {type:'value',gridIndex:1,min:0.0053,max:0.078,
     axisLine:axisLineStyle,
     axisTick:{show:true,customValues:bottomYTicks,length:5,lineStyle:{color:'#222',width:1}},
     axisLabel:{customValues:bottomYTicks,margin:9,formatter:minusFmt(2),...tickFont},
     splitLine:{show:false},
     name:'Mean absolute value of\ncumulative noise, |γᵢ|',nameLocation:'middle',nameRotate:90,nameGap:56,
     nameTextStyle:{...nameFont,lineHeight:23}}
  ],
  series:series
});
</script>
</body></html>
